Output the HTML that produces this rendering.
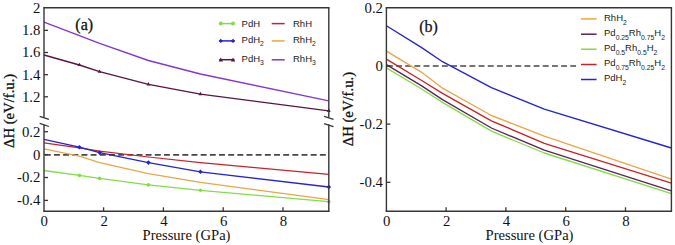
<!DOCTYPE html>
<html><head><meta charset="utf-8"><style>
html,body{margin:0;padding:0;background:#fff;}
body{width:675px;height:245px;overflow:hidden;}
svg{display:block;}
.sr{font-family:"Liberation Serif",serif;fill:#111;}
.bl{stroke:#111;stroke-width:0.3px;}
.ss{font-family:"Liberation Sans",sans-serif;fill:#1a1a1a;}
</style></head><body>
<svg width="675" height="245" viewBox="0 0 675 245">
<rect width="675" height="245" fill="#fff"/>
<line x1="44.8" y1="154.9" x2="328.8" y2="154.9" stroke="#474747" stroke-width="1.7" stroke-dasharray="5.9 3.27"/>
<polyline points="44,148.9 79.4,156.2 99.6,162.6 148.4,173.6 200.4,182.4 328.8,199.7" fill="none" stroke="#eaa644" stroke-width="1.25" stroke-linejoin="round"/>
<polyline points="44,142.8 79.4,147.8 99.6,151.2 148.4,157.0 200.4,162.6 328.8,174.4" fill="none" stroke="#c8222a" stroke-width="1.25" stroke-linejoin="round"/>
<polyline points="44,170.5 79.4,175.4 99.6,178.4 148.4,184.9 200.4,190.3 328.8,201.7" fill="none" stroke="#84dc48" stroke-width="1.35" stroke-linejoin="round"/>
<polyline points="44,139.3 79.4,147.2 99.6,152.6 148.4,162.6 200.4,171.8 328.8,187" fill="none" stroke="#2424d0" stroke-width="1.35" stroke-linejoin="round"/>
<polyline points="44,22.2 79.4,35.6 99.6,43.3 148.4,60.5 200.4,74 328.8,100.9" fill="none" stroke="#8436d4" stroke-width="1.35" stroke-linejoin="round"/>
<polyline points="44,55 79.4,65 99.6,71.7 148.4,84.3 200.4,94.1 328.8,110.9" fill="none" stroke="#5a1440" stroke-width="1.35" stroke-linejoin="round"/>
<circle cx="79.4" cy="175.4" r="1.8" fill="#84dc48"/>
<circle cx="99.6" cy="178.4" r="1.8" fill="#84dc48"/>
<circle cx="148.4" cy="184.9" r="1.8" fill="#84dc48"/>
<circle cx="200.4" cy="190.3" r="1.8" fill="#84dc48"/>
<circle cx="328.8" cy="201.7" r="1.8" fill="#84dc48"/>
<path d="M77.10000000000001,147.2L79.4,144.89999999999998L81.7,147.2L79.4,149.5Z" fill="#2424d0"/>
<path d="M97.3,152.6L99.6,150.29999999999998L101.89999999999999,152.6L99.6,154.9Z" fill="#2424d0"/>
<path d="M146.1,162.6L148.4,160.29999999999998L150.70000000000002,162.6L148.4,164.9Z" fill="#2424d0"/>
<path d="M198.1,171.8L200.4,169.5L202.70000000000002,171.8L200.4,174.10000000000002Z" fill="#2424d0"/>
<path d="M326.5,187L328.8,184.7L331.1,187L328.8,189.3Z" fill="#2424d0"/>
<path d="M77.5,66.11999999999999L79.4,62.699999999999996L81.30000000000001,66.11999999999999Z" fill="#5a1440"/>
<path d="M97.69999999999999,72.82L99.6,69.39999999999999L101.5,72.82Z" fill="#5a1440"/>
<path d="M146.5,85.41999999999999L148.4,81.99999999999999L150.3,85.41999999999999Z" fill="#5a1440"/>
<path d="M198.5,95.21999999999998L200.4,91.79999999999998L202.3,95.21999999999998Z" fill="#5a1440"/>
<path d="M326.90000000000003,112.02L328.8,108.6L330.7,112.02Z" fill="#5a1440"/>
<line x1="43.25" y1="7.8" x2="329.55" y2="7.8" stroke="#363636" stroke-width="1.4" />
<line x1="43.25" y1="211.3" x2="329.55" y2="211.3" stroke="#363636" stroke-width="1.4" />
<line x1="44" y1="7.8" x2="44" y2="117.5" stroke="#363636" stroke-width="1.4" />
<line x1="44" y1="124.5" x2="44" y2="211.3" stroke="#363636" stroke-width="1.4" />
<line x1="328.8" y1="7.8" x2="328.8" y2="117.5" stroke="#363636" stroke-width="1.4" />
<line x1="328.8" y1="124.5" x2="328.8" y2="211.3" stroke="#363636" stroke-width="1.4" />
<line x1="39.7" y1="116.4" x2="48.9" y2="119.3" stroke="#363636" stroke-width="1.3" />
<line x1="39.7" y1="123.4" x2="48.9" y2="126.5" stroke="#363636" stroke-width="1.3" />
<line x1="324.1" y1="116.4" x2="333.5" y2="119.3" stroke="#363636" stroke-width="1.3" />
<line x1="324.1" y1="123.6" x2="333.5" y2="126.6" stroke="#363636" stroke-width="1.3" />
<line x1="44" y1="30.35" x2="48" y2="30.35" stroke="#363636" stroke-width="1.3" />
<line x1="44" y1="52.5" x2="48" y2="52.5" stroke="#363636" stroke-width="1.3" />
<line x1="44" y1="74.65" x2="48" y2="74.65" stroke="#363636" stroke-width="1.3" />
<line x1="44" y1="96.8" x2="48" y2="96.8" stroke="#363636" stroke-width="1.3" />
<line x1="44" y1="131.7" x2="48" y2="131.7" stroke="#363636" stroke-width="1.3" />
<line x1="44" y1="154.6" x2="48" y2="154.6" stroke="#363636" stroke-width="1.3" />
<line x1="44" y1="177.5" x2="48" y2="177.5" stroke="#363636" stroke-width="1.3" />
<line x1="44" y1="200.4" x2="48" y2="200.4" stroke="#363636" stroke-width="1.3" />
<line x1="103.6" y1="211.3" x2="103.6" y2="207.3" stroke="#363636" stroke-width="1.3" />
<line x1="163.39999999999998" y1="211.3" x2="163.39999999999998" y2="207.3" stroke="#363636" stroke-width="1.3" />
<line x1="223.2" y1="211.3" x2="223.2" y2="207.3" stroke="#363636" stroke-width="1.3" />
<line x1="283.0" y1="211.3" x2="283.0" y2="207.3" stroke="#363636" stroke-width="1.3" />
<text class="sr" x="40.4" y="13.1" font-size="14.8" text-anchor="end" >2</text>
<text class="sr" x="40.4" y="35.25" font-size="14.8" text-anchor="end" >1.8</text>
<text class="sr" x="40.4" y="57.4" font-size="14.8" text-anchor="end" >1.6</text>
<text class="sr" x="40.4" y="79.55000000000001" font-size="14.8" text-anchor="end" >1.4</text>
<text class="sr" x="40.4" y="101.7" font-size="14.8" text-anchor="end" >1.2</text>
<text class="sr" x="40.4" y="136.6" font-size="14.8" text-anchor="end" >0.2</text>
<text class="sr" x="40.4" y="159.5" font-size="14.8" text-anchor="end" >0</text>
<text class="sr" x="40.4" y="182.4" font-size="14.8" text-anchor="end" >-0.2</text>
<text class="sr" x="40.4" y="205.3" font-size="14.8" text-anchor="end" >-0.4</text>
<text class="sr" x="44.3" y="226.0" font-size="14.8" text-anchor="middle" >0</text>
<text class="sr" x="104.1" y="226.0" font-size="14.8" text-anchor="middle" >2</text>
<text class="sr" x="163.89999999999998" y="226.0" font-size="14.8" text-anchor="middle" >4</text>
<text class="sr" x="223.7" y="226.0" font-size="14.8" text-anchor="middle" >6</text>
<text class="sr" x="283.5" y="226.0" font-size="14.8" text-anchor="middle" >8</text>
<text class="sr" x="186.5" y="240.4" font-size="14.6" text-anchor="middle" >Pressure (GPa)</text>
<text class="sr" x="84.2" y="30" font-size="16" text-anchor="middle" style="stroke:#111;stroke-width:0.3px">(a)</text>
<text class="sr" x="0" y="0" font-size="14.7" text-anchor="middle" style="stroke:#111;stroke-width:0.3px" transform="translate(13.5,110.9) rotate(-90)">ΔH (eV/f.u.)</text>
<line x1="219.3" y1="23.6" x2="234.5" y2="23.6" stroke="#84dc48" stroke-width="1.5" />
<circle cx="220.8" cy="23.6" r="2.0" fill="#84dc48"/>
<circle cx="233.0" cy="23.6" r="2.0" fill="#84dc48"/>
<line x1="219.3" y1="40.9" x2="234.5" y2="40.9" stroke="#2424d0" stroke-width="1.5" />
<path d="M218.60000000000002,40.9L220.8,38.699999999999996L223.0,40.9L220.8,43.1Z" fill="#2424d0"/>
<path d="M230.8,40.9L233.0,38.699999999999996L235.2,40.9L233.0,43.1Z" fill="#2424d0"/>
<line x1="219.3" y1="59.7" x2="234.5" y2="59.7" stroke="#5a1440" stroke-width="1.5" />
<path d="M218.60000000000002,61.46L220.8,57.5L223.0,61.46Z" fill="#5a1440"/>
<path d="M230.8,61.46L233.0,57.5L235.2,61.46Z" fill="#5a1440"/>
<line x1="271.7" y1="23.6" x2="284.7" y2="23.6" stroke="#c8222a" stroke-width="1.5" />
<line x1="271.7" y1="40.9" x2="284.7" y2="40.9" stroke="#eaa644" stroke-width="1.5" />
<line x1="271.7" y1="59.8" x2="284.7" y2="59.8" stroke="#8436d4" stroke-width="1.5" />
<text class="ss" x="241.6" y="27.1" font-size="9.5" text-anchor="start" >PdH</text>
<text class="ss" x="241.6" y="42.5" font-size="9.5" text-anchor="start" >PdH<tspan font-size="6.8" dy="3.6">2</tspan></text>
<text class="ss" x="241.6" y="61.8" font-size="9.5" text-anchor="start" >PdH<tspan font-size="6.8" dy="3.6">3</tspan></text>
<text class="ss" x="293.0" y="27.1" font-size="9.5" text-anchor="start" >RhH</text>
<text class="ss" x="293.0" y="42.5" font-size="9.5" text-anchor="start" >RhH<tspan font-size="6.8" dy="3.6">2</tspan></text>
<text class="ss" x="293.0" y="61.8" font-size="9.5" text-anchor="start" >RhH<tspan font-size="6.8" dy="3.6">3</tspan></text>
<line x1="386.9" y1="66.0" x2="576" y2="66.0" stroke="#474747" stroke-width="1.7" stroke-dasharray="5.9 3.27"/>
<polyline points="386.4,51.2 421.7,72.3 442.5,88.2 491.4,115.5 544.3,136.2 671.4,179.1" fill="none" stroke="#eaa644" stroke-width="1.35" stroke-linejoin="round"/>
<polyline points="386.4,59.1 421.7,80.5 442.5,93.4 491.4,120.8 544.3,143.4 671.4,183.2" fill="none" stroke="#c8222a" stroke-width="1.35" stroke-linejoin="round"/>
<polyline points="386.4,67.9 421.7,89.0 442.5,102.4 491.4,131.2 544.3,153.0 671.4,193.6" fill="none" stroke="#84dc48" stroke-width="1.35" stroke-linejoin="round"/>
<polyline points="386.4,64.6 421.7,85.9 442.5,99.6 491.4,128.0 544.3,150.2 671.4,190.9" fill="none" stroke="#5a2458" stroke-width="1.35" stroke-linejoin="round"/>
<polyline points="386.4,25.7 421.7,47.6 442.5,61.7 491.4,87.7 544.3,109.1 671.4,148" fill="none" stroke="#2424d0" stroke-width="1.35" stroke-linejoin="round"/>
<rect x="576.5" y="9" width="94" height="78" fill="#fff"/>
<line x1="581" y1="18.9" x2="596.6" y2="18.9" stroke="#eaa644" stroke-width="1.5" />
<line x1="581" y1="34.2" x2="596.6" y2="34.2" stroke="#5a2458" stroke-width="1.5" />
<line x1="581" y1="49.2" x2="596.6" y2="49.2" stroke="#84dc48" stroke-width="1.5" />
<line x1="581" y1="64.5" x2="596.6" y2="64.5" stroke="#c8222a" stroke-width="1.5" />
<line x1="581" y1="79.5" x2="596.6" y2="79.5" stroke="#2424d0" stroke-width="1.5" />
<text class="ss" x="604.0" y="20.8" font-size="9.5" text-anchor="start" >RhH<tspan font-size="6.8" dy="3.8">2</tspan></text>
<text class="ss" x="604.0" y="35.9" font-size="9.5" text-anchor="start" >Pd<tspan font-size="6.8" dy="3.8">0.25</tspan><tspan dy="-3.8">Rh</tspan><tspan font-size="6.8" dy="3.8">0.75</tspan><tspan dy="-3.8">H</tspan><tspan font-size="6.8" dy="3.8">2</tspan></text>
<text class="ss" x="604.0" y="51.2" font-size="9.5" text-anchor="start" >Pd<tspan font-size="6.8" dy="3.8">0.5</tspan><tspan dy="-3.8">Rh</tspan><tspan font-size="6.8" dy="3.8">0.5</tspan><tspan dy="-3.8">H</tspan><tspan font-size="6.8" dy="3.8">2</tspan></text>
<text class="ss" x="604.0" y="66.1" font-size="9.5" text-anchor="start" >Pd<tspan font-size="6.8" dy="3.8">0.75</tspan><tspan dy="-3.8">Rh</tspan><tspan font-size="6.8" dy="3.8">0.25</tspan><tspan dy="-3.8">H</tspan><tspan font-size="6.8" dy="3.8">2</tspan></text>
<text class="ss" x="604.0" y="80.9" font-size="9.5" text-anchor="start" >PdH<tspan font-size="6.8" dy="3.8">2</tspan></text>
<line x1="385.65" y1="7.8" x2="672.15" y2="7.8" stroke="#363636" stroke-width="1.4" />
<line x1="385.65" y1="211.3" x2="672.15" y2="211.3" stroke="#363636" stroke-width="1.4" />
<line x1="386.4" y1="7.8" x2="386.4" y2="211.3" stroke="#363636" stroke-width="1.4" />
<line x1="671.4" y1="7.8" x2="671.4" y2="211.3" stroke="#363636" stroke-width="1.4" />
<line x1="386.4" y1="66.0" x2="390.4" y2="66.0" stroke="#363636" stroke-width="1.3" />
<line x1="386.4" y1="124.1" x2="390.4" y2="124.1" stroke="#363636" stroke-width="1.3" />
<line x1="386.4" y1="182.35" x2="390.4" y2="182.35" stroke="#363636" stroke-width="1.3" />
<line x1="446.1" y1="211.3" x2="446.1" y2="207.3" stroke="#363636" stroke-width="1.3" />
<line x1="505.9" y1="211.3" x2="505.9" y2="207.3" stroke="#363636" stroke-width="1.3" />
<line x1="565.7" y1="211.3" x2="565.7" y2="207.3" stroke="#363636" stroke-width="1.3" />
<line x1="625.5" y1="211.3" x2="625.5" y2="207.3" stroke="#363636" stroke-width="1.3" />
<text class="sr" x="383.0" y="12.8" font-size="14.8" text-anchor="end" >0.2</text>
<text class="sr" x="383.0" y="70.9" font-size="14.8" text-anchor="end" >0</text>
<text class="sr" x="383.0" y="129.0" font-size="14.8" text-anchor="end" >-0.2</text>
<text class="sr" x="383.0" y="187.25" font-size="14.8" text-anchor="end" >-0.4</text>
<text class="sr" x="386.8" y="226.0" font-size="14.8" text-anchor="middle" >0</text>
<text class="sr" x="446.6" y="226.0" font-size="14.8" text-anchor="middle" >2</text>
<text class="sr" x="506.4" y="226.0" font-size="14.8" text-anchor="middle" >4</text>
<text class="sr" x="566.2" y="226.0" font-size="14.8" text-anchor="middle" >6</text>
<text class="sr" x="626.0" y="226.0" font-size="14.8" text-anchor="middle" >8</text>
<text class="sr" x="529.5" y="240.0" font-size="14.6" text-anchor="middle" >Pressure (GPa)</text>
<text class="sr" x="428.5" y="31.8" font-size="16" text-anchor="middle" style="stroke:#111;stroke-width:0.25px">(b)</text>
<text class="sr" x="0" y="0" font-size="14.7" text-anchor="middle" style="stroke:#111;stroke-width:0.3px" transform="translate(353.0,109.1) rotate(-90)">ΔH (eV/f.u.)</text>
</svg>
</body></html>
